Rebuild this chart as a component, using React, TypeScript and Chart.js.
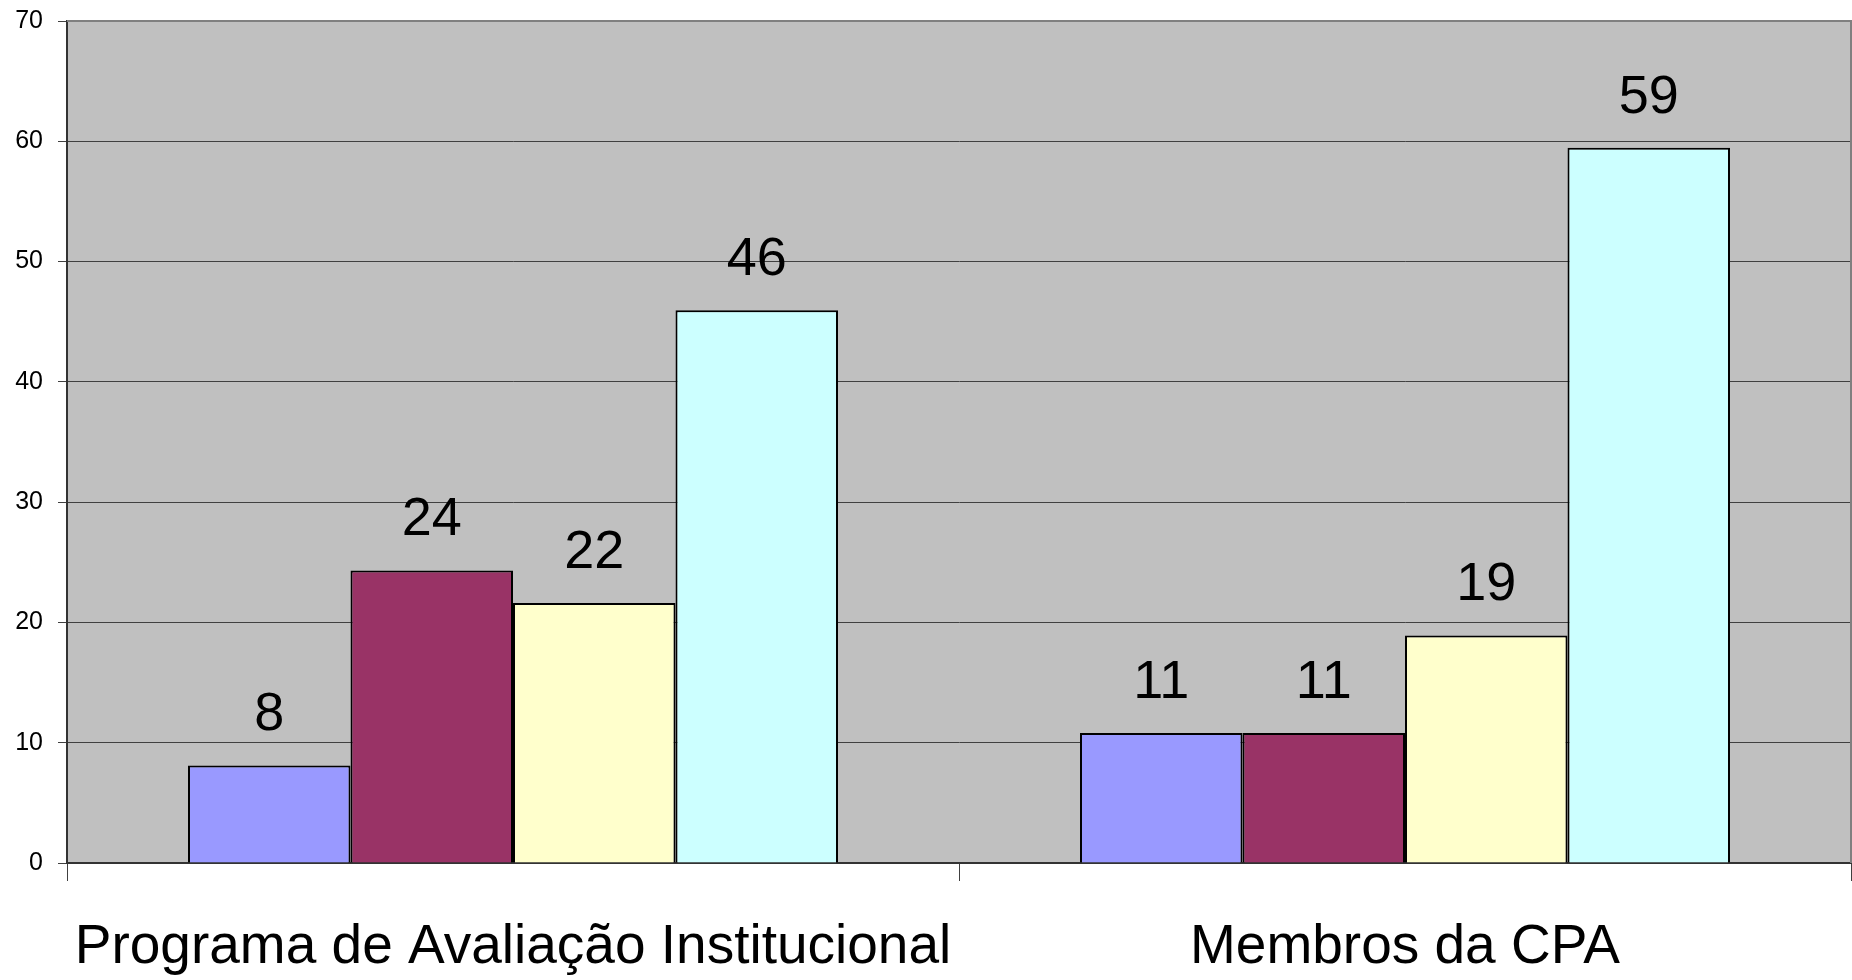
import React, { useEffect, useRef } from "react";
import { Chart, registerables } from "chart.js";

Chart.register(...registerables);

const categories = ["Programa de Avaliação Institucional", "Membros da CPA"];
const seriesA = [8.11, 10.81];
const seriesB = [24.32, 10.81];
const seriesC = [21.62, 18.92];
const seriesD = [45.95, 59.46];
const seriesColors = ["#9999FF", "#993366", "#FFFFCC", "#CCFFFF"];
const yTicks = [0, 10, 20, 30, 40, 50, 60, 70];

const FONT = "'Liberation Sans', Arial, sans-serif";

const plotBg = {
  id: "plotBg",
  beforeDraw(chart: any) {
    const { ctx, chartArea } = chart;
    ctx.save();
    ctx.fillStyle = "#C0C0C0";
    ctx.fillRect(chartArea.left, chartArea.top, chartArea.right - chartArea.left, chartArea.bottom - chartArea.top);
    ctx.restore();
  },
  afterDraw(chart: any) {
    const { ctx, chartArea } = chart;
    ctx.save();
    ctx.strokeStyle = "#808080";
    ctx.lineWidth = 2;
    ctx.beginPath();
    ctx.moveTo(chartArea.left, chartArea.top);
    ctx.lineTo(chartArea.right, chartArea.top);
    ctx.lineTo(chartArea.right, chartArea.bottom);
    ctx.stroke();
    ctx.restore();
  },
};

const dataLabels = {
  id: "dataLabels",
  afterDatasetsDraw(chart: any) {
    const { ctx } = chart;
    ctx.save();
    ctx.fillStyle = "#000";
    ctx.font = `54px ${FONT}`;
    ctx.textAlign = "center";
    ctx.textBaseline = "alphabetic";
    chart.data.datasets.forEach((ds: any, i: number) => {
      const meta = chart.getDatasetMeta(i);
      meta.data.forEach((el: any, j: number) => {
        const v = ds.data[j];
        ctx.fillText(String(Math.round(v)), el.x, el.y - 35);
      });
    });
    ctx.restore();
  },
};

export default function App() {
  const ref = useRef<HTMLCanvasElement | null>(null);
  useEffect(() => {
    if (!ref.current) return;
    const chart = new Chart(ref.current, {
      type: "bar",
      data: {
        labels: categories,
        datasets: [seriesA, seriesB, seriesC, seriesD].map((d, i) => ({
          label: "S" + (i + 1),
          data: d,
          backgroundColor: seriesColors[i],
          borderColor: "#000",
          borderWidth: 2,
          categoryPercentage: 0.7287,
          barPercentage: 1,
        })),
      },
      options: {
        responsive: false,
        animation: false,
        layout: { padding: { top: 21, right: 1, left: 0, bottom: 0 } },
        plugins: {
          legend: { display: false },
          tooltip: { enabled: false },
        },
        scales: {
          x: {
            offset: true,
            grid: {
              offset: true,
              drawOnChartArea: false,
              drawTicks: true,
              tickLength: 18,
              color: "#404040",
              lineWidth: 1,
            },
            border: { display: true, color: "#333", width: 2 },
            ticks: {
              color: "#000",
              font: { family: FONT, size: 55, lineHeight: 1 },
              padding: 39,
              maxRotation: 0,
              autoSkip: false,
            },
            afterFit(scale: any) {
              scale.height = 117;
              scale.paddingLeft = 0;
              scale.paddingRight = 0;
            },
          },
          y: {
            min: 0,
            max: 70,
            afterBuildTicks(scale: any) {
              scale.ticks = yTicks.map((v) => ({ value: v }));
            },
            grid: {
              color: "#404040",
              lineWidth: 1,
              tickLength: 9,
            },
            border: { display: true, color: "#333", width: 2 },
            ticks: {
              color: "#000",
              font: { family: FONT, size: 25 },
              padding: 15,
            },
            afterFit(scale: any) {
              scale.width = 67;
              scale.paddingTop = 0;
              scale.paddingBottom = 0;
            },
          },
        },
      },
      plugins: [plotBg, dataLabels],
    });
    return () => chart.destroy();
  }, []);
  return (
    <div style={{ position: "absolute", left: 0, top: 0, width: 1852, height: 980 }}>
      <canvas ref={ref} width={1852} height={980} style={{ display: "block" }} />
    </div>
  );
}
